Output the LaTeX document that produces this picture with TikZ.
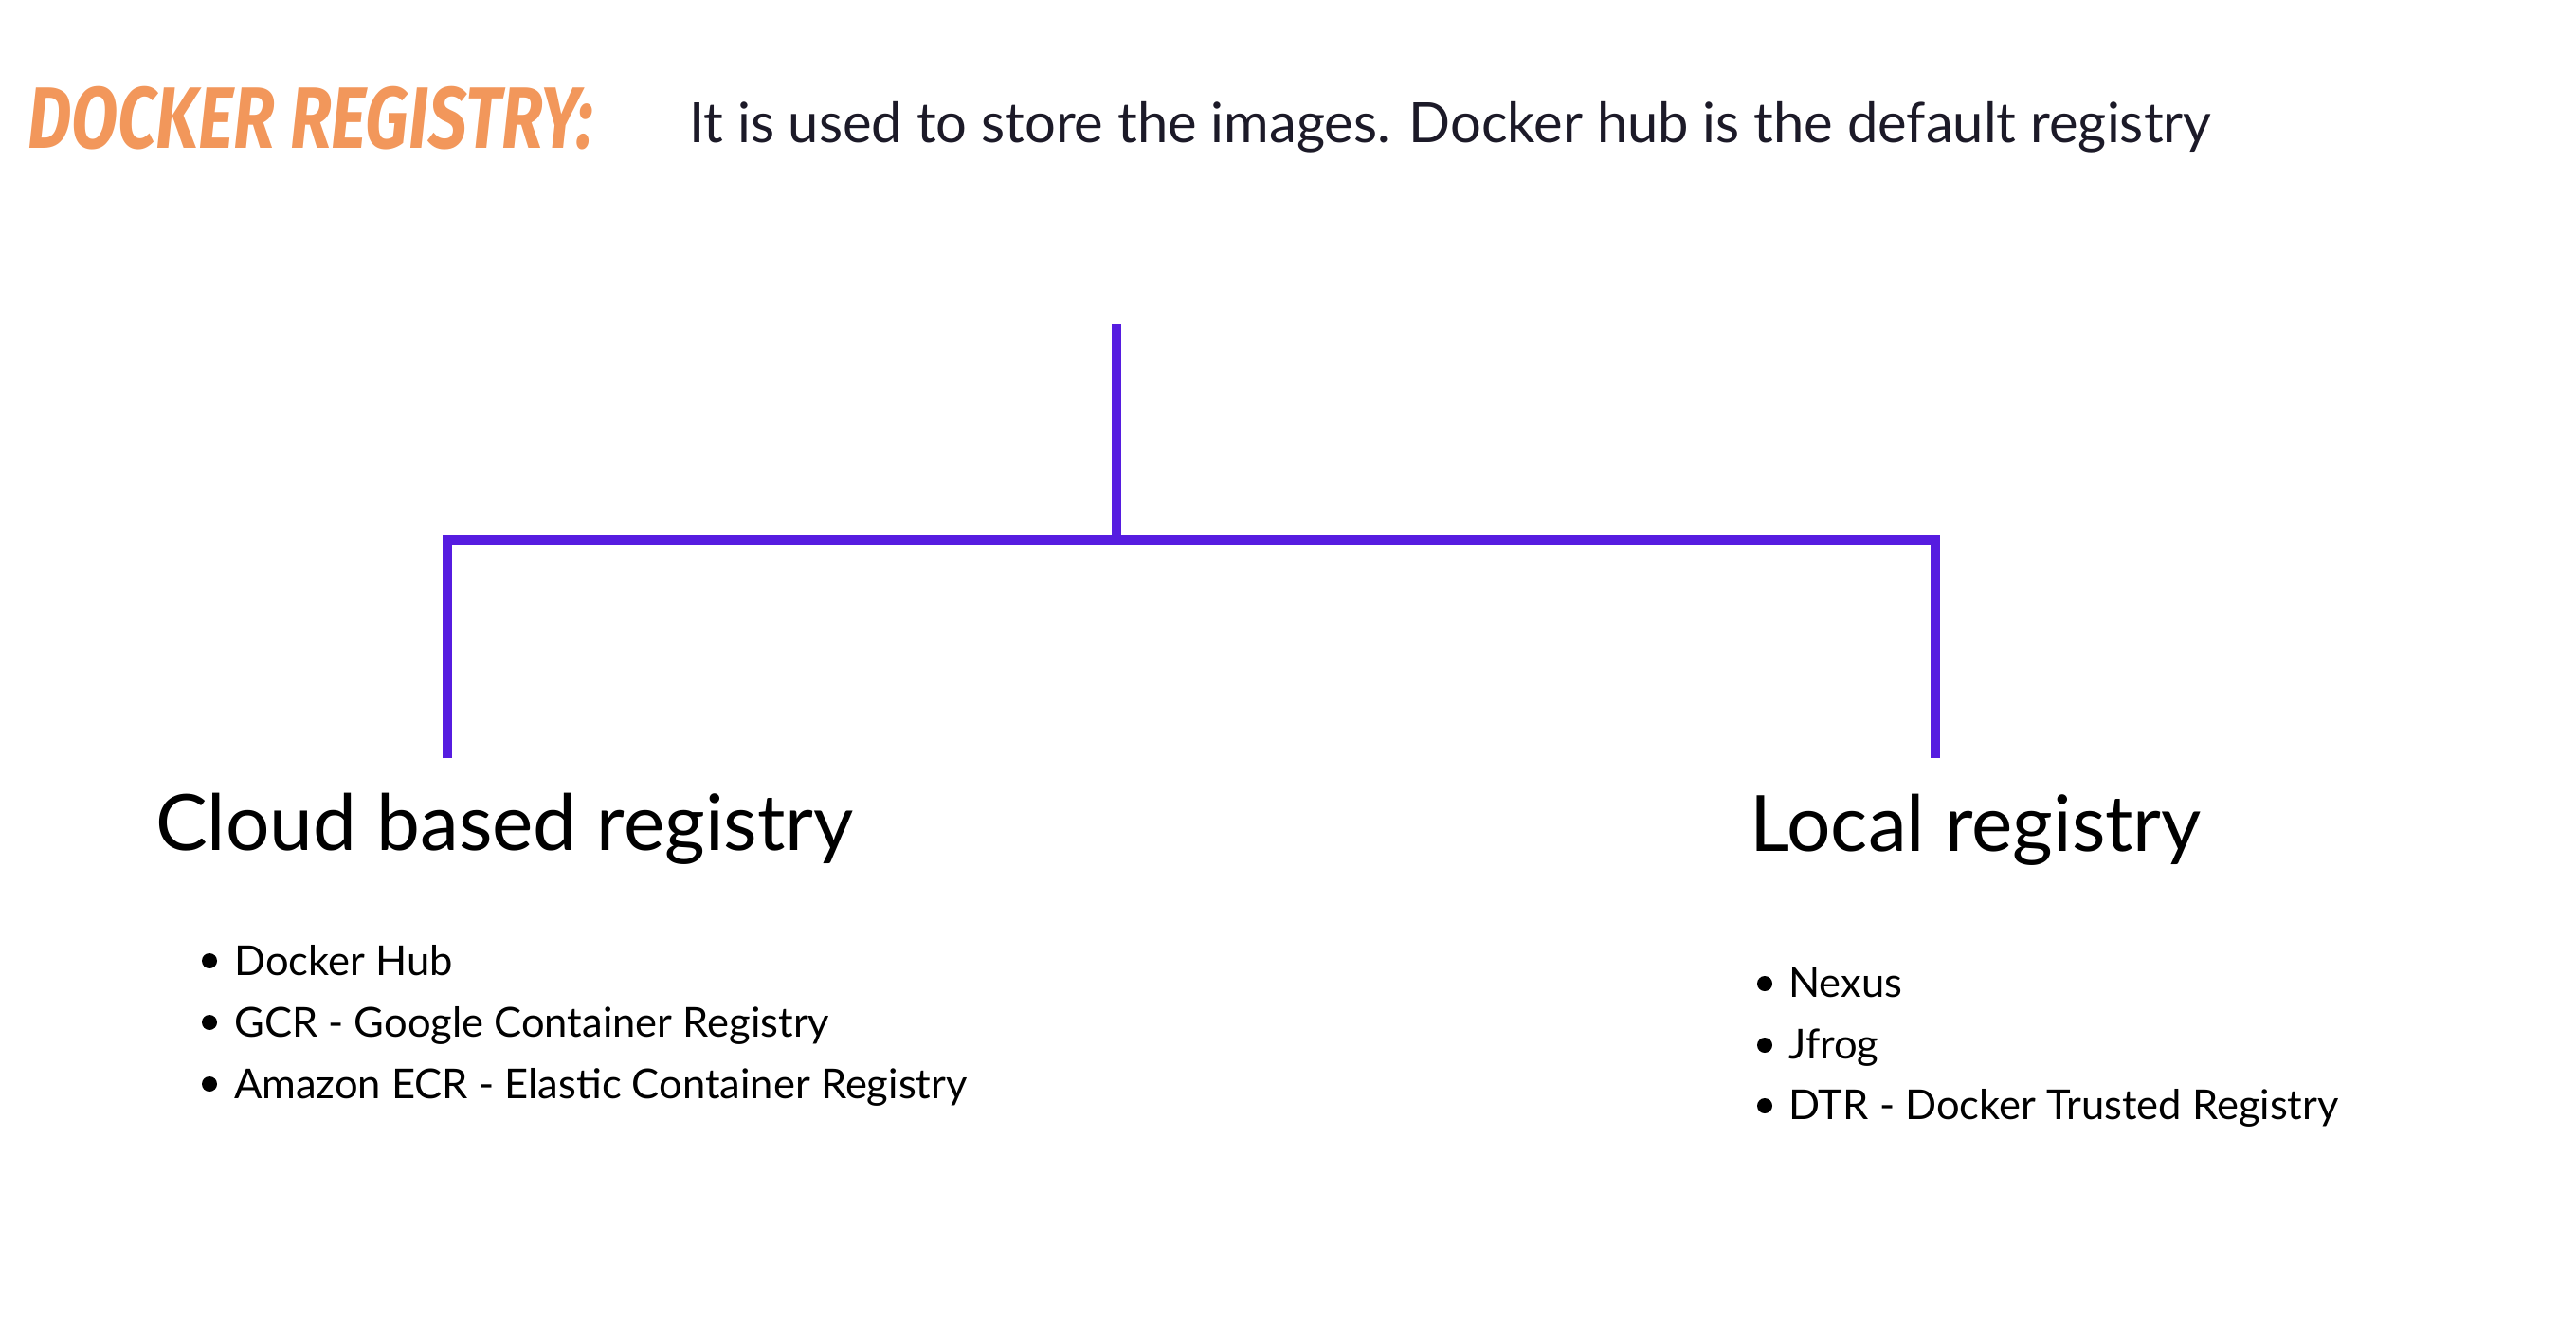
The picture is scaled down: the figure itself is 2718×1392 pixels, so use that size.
\documentclass[tikz,border=0pt]{standalone}
\usepackage{graphicx}
\usepackage{fontspec}
\setmainfont{Lato}
\newfontfamily\brushfont{Fira Sans}
\usetikzlibrary{positioning}

\definecolor{treeviolet}{HTML}{561CE0}
\definecolor{brushorange}{HTML}{F2975B}
\definecolor{inkdark}{HTML}{1C1A28}

% squeeze a text to a given width, height unchanged
\newcommand{\fitwidth}[2]{\resizebox{#1}{\height}{#2}}

\tikzset{
  heading/.style={anchor=base west, inner sep=0pt, font=\fontsize{82}{94}\selectfont},
  item/.style={anchor=base west, inner sep=0pt, font=\fontsize{43.5}{50}\selectfont},
  bulletdot/.style={circle, fill=black, inner sep=0pt, minimum size=16pt},
  branch/.style={draw=treeviolet, line width=10pt},
}

\begin{document}
\begin{tikzpicture}[x=1pt, y=-1pt]
\useasboundingbox[fill=white] (0,0) rectangle (2718,1392);

\node[anchor=base west, inner sep=0pt, text=brushorange,
      font=\brushfont\bfseries\itshape\fontsize{92}{100}\selectfont] (title) at (29,156) {\fitwidth{596pt}{DOCKER REGISTRY:}};
\node[anchor=base west, inner sep=0pt, text=inkdark,
      font=\fontsize{58.6}{70}\selectfont] (intro) at (727,150) {\fitwidth{1606pt}{It is used to store the images. Docker hub is the default registry}};

% tree
\coordinate (root) at (1178,342);
\coordinate (joint) at (1178,570);
\coordinate (cloudtop) at (472,570);
\coordinate (localtop) at (2042,570);
\coordinate (cloudfoot) at (472,800);
\coordinate (localfoot) at (2042,800);
\draw[branch] (root) -- (joint);
\draw[branch] (cloudfoot) -- (cloudtop) -- (localtop) -- (localfoot);

\node[heading] (cloud) at (164,897) {Cloud based registry};
\node[heading] (local) at (1846,898) {Local registry};

\node[item] (hub) at (247,1029) {Docker Hub};
\node[item] (gcr) at (247,1094) {GCR - Google Container Registry};
\node[item] (ecr) at (247,1159) {Amazon ECR - Elastic Container Registry};
\node[bulletdot] (bhub) at (221,1014) {};
\node[bulletdot] (bgcr) at (221,1079) {};
\node[bulletdot] (becr) at (221,1144) {};

\node[item] (nexus) at (1887,1052) {Nexus};
\node[item] (jfrog) at (1887,1117) {Jfrog};
\node[item] (dtr) at (1887,1181) {DTR - Docker Trusted Registry};
\node[bulletdot] (bnexus) at (1862,1038) {};
\node[bulletdot] (bjfrog) at (1862,1103) {};
\node[bulletdot] (bdtr) at (1862,1167) {};

\end{tikzpicture}
\end{document}
